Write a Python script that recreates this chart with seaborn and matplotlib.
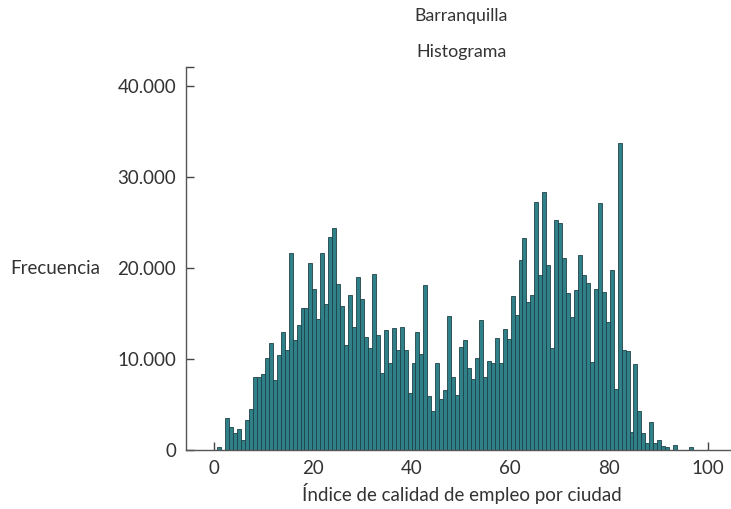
import numpy as np
import pandas as pd
import seaborn as sns
import matplotlib.pyplot as plt
from matplotlib.ticker import FuncFormatter

# Histogram counts, one per bin (120 bins)
BIN_START = 0.67
BIN_END = 97.0
counts = [
    350, 0, 3500, 2550, 1925, 2365, 1120, 3320, 4530, 8050,
    7980, 8380, 10140, 11720, 7650, 10500, 13000, 10950, 21700, 12150,
    13730, 15570, 15640, 20590, 17730, 14360, 21690, 16080, 23450, 24370,
    18300, 15820, 11600, 17100, 13480, 19010, 16630, 12450, 11240, 19380,
    12600, 8420, 13150, 9520, 13440, 11050, 13550, 11050, 6290, 9550,
    13000, 10580, 18100, 5920, 4240, 9550, 5630, 6620, 14720, 8010,
    6000, 11350, 12120, 9040, 7760, 10140, 14320, 8050, 9810, 9520,
    12340, 9520, 13260, 12230, 16960, 14870, 20850, 23300, 16300, 17030,
    27300, 19200, 28400, 20330, 11240, 25250, 25000, 21150, 17220, 14650,
    17620, 21470, 19200, 18390, 9700, 17660, 27200, 17380, 14080, 19800,
    6740, 33740, 11000, 10890, 1980, 9430, 4290, 1840, 740, 3110,
    740, 1070, 440, 290, 0, 580, 0, 0, 0, 360,
]
x_ticks = [0, 20, 40, 60, 80, 100]
y_ticks = [0, 10000, 20000, 30000, 40000]

city = "Barranquilla"
subtitle = "Histograma"
x_label = "Índice de calidad de empleo por ciudad"
y_label = "Frecuencia"

n_bins = len(counts)
bin_w = (BIN_END - BIN_START) / n_bins
df = pd.DataFrame({
    "indice": BIN_START + bin_w * (np.arange(n_bins) + 0.5),
    "n": counts,
})

sns.set_style("white")
plt.rcParams["font.family"] = ["Lato", "DejaVu Sans"]
text_color = "#333333"

fig = plt.figure(figsize=(7.31, 5.09), dpi=100)
ax = fig.add_axes([0.2544, 0.1159, 0.755, 0.7525])

sns.histplot(
    data=df, x="indice", weights="n", bins=n_bins, binrange=(BIN_START, BIN_END),
    ax=ax, color="#2f8088", edgecolor="#1f4246", linewidth=0.6, alpha=1,
)

ymax = 42130
ax.set_xlim(-5.67, 106.1)
ax.set_ylim(0, ymax)

# extra tick at the top of the axis, no label
ax.set_yticks(y_ticks + [ymax])
ax.yaxis.set_major_formatter(
    FuncFormatter(lambda v, p: "" if v == ymax else f"{int(v):,}".replace(",", "."))
)
ax.set_xticks(x_ticks)

ax.set_xlabel("")
ax.set_ylabel("")
sns.despine(ax=ax)
for side in ["left", "bottom"]:
    ax.spines[side].set_color("#555555")
    ax.spines[side].set_linewidth(1.0)
ax.tick_params(axis="both", direction="in", length=6, width=1, color="#444444",
               bottom=True, left=True, labelsize=13.5, labelcolor=text_color, pad=7)

fig.text(461 / 731, 1 - 16 / 509, city, ha="center", va="center", fontsize=12.8,
         color=text_color)
fig.text(461 / 731, 1 - 52 / 509, subtitle, ha="center", va="center", fontsize=12.8,
         color=text_color)
fig.text(462 / 731, 1 - 494 / 509, x_label, ha="center", va="center", fontsize=13.5,
         color=text_color)
fig.text(10 / 731, 1 - 269 / 509, y_label, ha="left", va="center", fontsize=13.5,
         color=text_color)

fig.savefig("out.png", dpi=100)
